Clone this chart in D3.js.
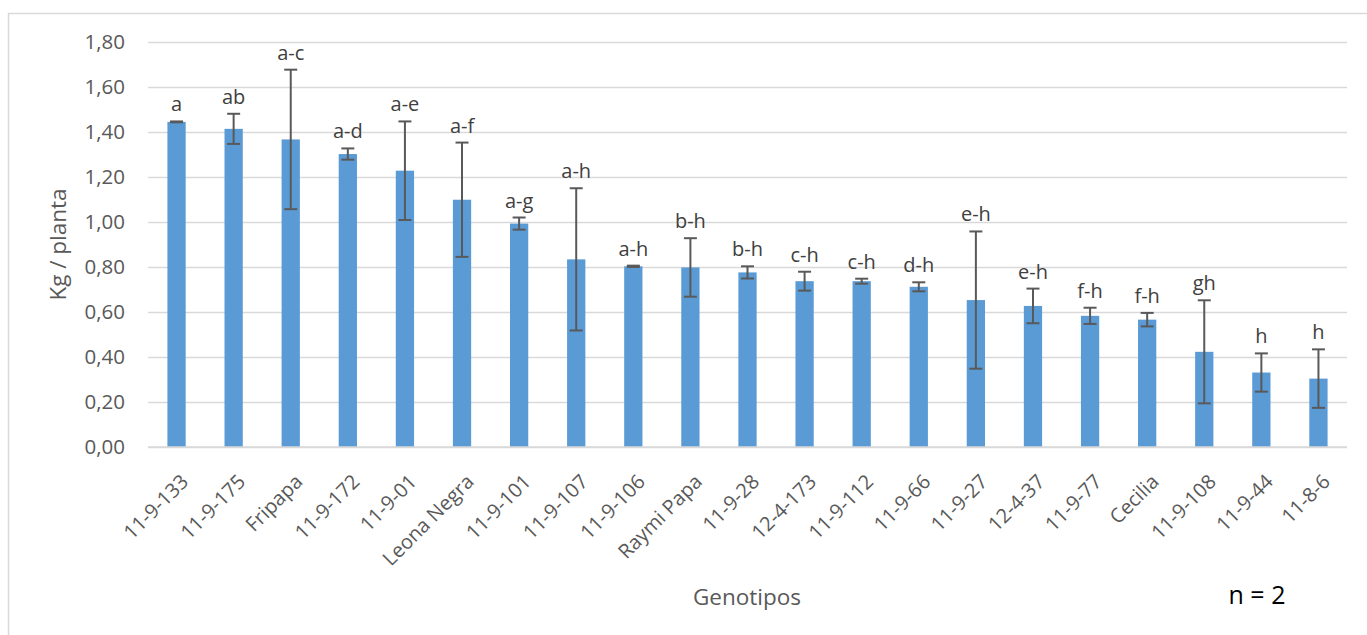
<!DOCTYPE html>
<html>
<head>
<meta charset="utf-8">
<script src="https://cdn.jsdelivr.net/npm/d3@7"></script>
<style>
  html, body { margin: 0; padding: 0; background: #ffffff; }
  svg { display: block; }
  text { font-family: "Open Sans", Lato, "Noto Sans", sans-serif; }
</style>
</head>
<body>
<svg id="chart" width="1367" height="635"></svg>
<script>
// Genotypes, mean yield per plant (kg), error half-width and significance letters
const genotipos = ["11-9-133", "11-9-175", "Fripapa", "11-9-172", "11-9-01", "Leona Negra",
  "11-9-101", "11-9-107", "11-9-106", "Raymi Papa", "11-9-28", "12-4-173", "11-9-112",
  "11-9-66", "11-9-27", "12-4-37", "11-9-77", "Cecilia", "11-9-108", "11-9-44", "11-8-6"];
const kgPlanta = [1.445, 1.414, 1.367, 1.302, 1.228, 1.099, 0.993, 0.834, 0.803, 0.798,
  0.776, 0.737, 0.737, 0.712, 0.653, 0.627, 0.583, 0.566, 0.423, 0.331, 0.304];
const errores = [0.002, 0.067, 0.310, 0.025, 0.219, 0.254, 0.027, 0.316, 0.003, 0.130,
  0.027, 0.042, 0.011, 0.020, 0.305, 0.077, 0.036, 0.030, 0.229, 0.085, 0.130];
const letras = ["a", "ab", "a-c", "a-d", "a-e", "a-f", "a-g", "a-h", "a-h", "b-h",
  "b-h", "c-h", "c-h", "d-h", "e-h", "e-h", "f-h", "f-h", "gh", "h", "h"];
const yTicks = [0, 0.2, 0.4, 0.6, 0.8, 1.0, 1.2, 1.4, 1.6, 1.8];

const svg = d3.select("#chart");
const plot = { left: 148, right: 1347, top: 42, bottom: 447 };
const grey = "#595959";

// Outer chart frame (top and left edges visible)
svg.append("path")
  .attr("d", "M8.5,640 L8.5,13.5 L1370,13.5")
  .attr("fill", "none")
  .attr("stroke", "#d9d9d9")
  .attr("stroke-width", 1.5);

const x = d3.scaleBand()
  .domain(genotipos)
  .range([plot.left, plot.right])
  .paddingInner(0.68)
  .paddingOuter(0.34);

const y = d3.scaleLinear()
  .domain([0, 1.8])
  .range([plot.bottom, plot.top]);

const fmt = v => d3.format(".2f")(v).replace(".", ",");

// Horizontal gridlines and y tick labels
const yAxis = d3.axisLeft(y)
  .tickValues(yTicks)
  .tickSize(-(plot.right - plot.left))
  .tickPadding(23)
  .tickFormat(fmt);

const gy = svg.append("g")
  .attr("transform", `translate(${plot.left},0)`)
  .call(yAxis);
gy.select(".domain").remove();
gy.selectAll(".tick line")
  .attr("stroke", "#d9d9d9")
  .attr("stroke-width", 1.5);
gy.selectAll(".tick text")
  .attr("fill", grey)
  .attr("font-size", 20.5);

// Bars
svg.append("g").selectAll("rect")
  .data(genotipos)
  .join("rect")
  .attr("x", d => x(d))
  .attr("width", x.bandwidth())
  .attr("y", (d, i) => y(kgPlanta[i]))
  .attr("height", (d, i) => y(0) - y(kgPlanta[i]))
  .attr("fill", "#5b9bd5");

// Error bars
const capHalf = 6.5;
const eb = svg.append("g")
  .attr("stroke", grey)
  .attr("stroke-width", 2)
  .selectAll("g")
  .data(genotipos)
  .join("g")
  .attr("transform", d => `translate(${x(d) + x.bandwidth() / 2},0)`);
eb.append("line")
  .attr("y1", (d, i) => y(kgPlanta[i] + errores[i]))
  .attr("y2", (d, i) => y(kgPlanta[i] - errores[i]));
eb.append("line")
  .attr("x1", -capHalf).attr("x2", capHalf)
  .attr("y1", (d, i) => y(kgPlanta[i] + errores[i]))
  .attr("y2", (d, i) => y(kgPlanta[i] + errores[i]));
eb.append("line")
  .attr("x1", -capHalf).attr("x2", capHalf)
  .attr("y1", (d, i) => y(kgPlanta[i] - errores[i]))
  .attr("y2", (d, i) => y(kgPlanta[i] - errores[i]));

// Significance letters above each error bar
svg.append("g").selectAll("text")
  .data(genotipos)
  .join("text")
  .attr("x", d => x(d) + x.bandwidth() / 2)
  .attr("y", (d, i) => y(kgPlanta[i] + errores[i]) - 10)
  .attr("text-anchor", "middle")
  .attr("fill", "#404040")
  .attr("font-size", 20)
  .text((d, i) => letras[i]);

// Baseline
svg.append("line")
  .attr("x1", plot.left).attr("x2", plot.right)
  .attr("y1", y(0)).attr("y2", y(0))
  .attr("stroke", "#d9d9d9")
  .attr("stroke-width", 1.5);

// Category labels, rotated
const xAxis = d3.axisBottom(x).tickSize(0).tickPadding(0);
const gx = svg.append("g")
  .attr("transform", `translate(0,${plot.bottom})`)
  .call(xAxis);
gx.select(".domain").remove();
gx.selectAll(".tick text")
  .attr("fill", grey)
  .attr("font-size", 20)
  .attr("text-anchor", "end")
  .attr("dy", 0)
  .attr("transform", "translate(13,36) rotate(-45)");

// Axis titles
svg.append("text")
  .attr("transform", `translate(66,${(plot.top + plot.bottom) / 2}) rotate(-90)`)
  .attr("text-anchor", "middle")
  .attr("fill", grey)
  .attr("font-size", 22.5)
  .text("Kg / planta");

svg.append("text")
  .attr("x", 747)
  .attr("y", 605)
  .attr("text-anchor", "middle")
  .attr("fill", grey)
  .attr("font-size", 22.5)
  .text("Genotipos");

svg.append("text")
  .attr("x", 1257)
  .attr("y", 604)
  .attr("text-anchor", "middle")
  .attr("fill", "#000000")
  .attr("font-size", 25)
  .text("n = 2");
</script>
</body>
</html>
